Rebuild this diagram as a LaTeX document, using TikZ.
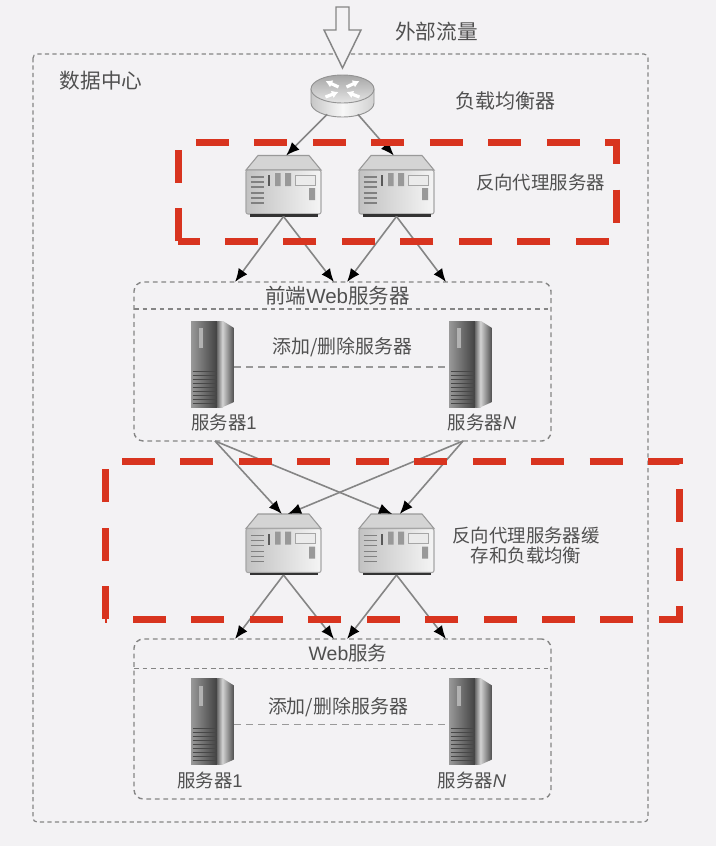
\documentclass[tikz,border=0pt]{standalone}
\usepackage{fontspec}
\setmainfont{Noto Sans CJK SC}
\newfontfamily\latinfont{Liberation Sans}
\usetikzlibrary{positioning,shapes,arrows.meta}
\definecolor{pagebg}{HTML}{F3F2F4}
\definecolor{dashred}{HTML}{D8341F}
\definecolor{labelgray}{HTML}{505050}
\definecolor{linegray}{HTML}{858585}

\tikzset{
    proxyserver/.pic={
        \path[draw=gray!80,line width=0.8pt,fill=black!17] (-25.5,-30.5) -- (25.5,-30.5) -- (37.5,-16) -- (-37.5,-16) -- cycle;
        \path[draw=gray!70,line width=0.8pt,rounded corners=1.5pt,left color=black!24,right color=black!4] (-37.5,-16) rectangle (37.5,28);
        \fill[black!80] (-34,28) rectangle (34,30.5);
        \draw[black!50,line width=1pt] (-33,-9) -- (-20,-9) (-33,-4) -- (-20,-4) (-33,1) -- (-20,1)
            (-33,7) -- (-20,7) (-33,12) -- (-20,12) (-33,17) -- (-20,17);
        \fill[black!65] (-16,-11) rectangle (-13.5,0);
        \fill[black!40] (-8.5,-13) rectangle (-3,0) (1.5,-13) rectangle (7.5,0) (25.5,2) rectangle (31.5,14);
        \draw[black!35,fill=black!8] (11.5,-11) rectangle (31.5,-1);
    },
    towerserver/.pic={
        \path[left color=black!40,right color=black!75] (-21.5,-43) rectangle (5,43);
        \path[left color=black!55,right color=black!12] (5,-43) rectangle (10.5,43);
        \path[left color=black!20,right color=black!70] (10.5,-43) -- (21.5,-36) -- (21.5,38) -- (10.5,43) -- cycle;
        \fill[black!30] (-14,-36) rectangle (-9.5,-16);
        \draw[black!72,line width=0.7pt] (-20,7) -- (4,7) (-20,11) -- (4,11) (-20,15) -- (4,15) (-20,19) -- (4,19)
            (-20,23) -- (4,23) (-20,27) -- (4,27) (-20,31) -- (4,31) (-20,35) -- (4,35) (-20,39) -- (4,39);
    },
    routerbox/.pic={
        \path[draw=gray!85,line width=0.7pt,left color=black!22,right color=black!18,middle color=black!3]
            (-31.5,-7) -- (-31.5,7) arc[start angle=180,end angle=0,x radius=31.5,y radius=14] -- (31.5,-7) -- cycle;
        \path[draw=gray!85,line width=0.7pt,top color=black!35,bottom color=black!10] (0,-7) ellipse[x radius=31.5,y radius=14];
        \draw[white,line width=2.4pt,-{Latex[length=5pt,width=6pt]}] (-4,-9) -- (-17,-15);
        \draw[white,line width=2.4pt,-{Latex[length=5pt,width=6pt]}] (4,-9) -- (17,-15);
        \draw[white,line width=2.4pt,-{Latex[length=5pt,width=6pt]}] (-17,1) -- (-4,-4);
        \draw[white,line width=2.4pt,-{Latex[length=5pt,width=6pt]}] (17,1) -- (4,-4);
    }
}

\begin{document}
\begin{tikzpicture}[
    x=0.75pt,y=-0.75pt,
    iconbox/.style={inner sep=0pt,outer sep=0pt,rectangle},
    proxybox/.style={iconbox,minimum width=56.25pt,minimum height=45.75pt},
    towerbox/.style={iconbox,minimum width=32.25pt,minimum height=64.5pt},
    routernode/.style={ellipse,inner sep=0pt,outer sep=0pt,minimum width=47.25pt,minimum height=31.5pt},
    panel/.style={draw=linegray,line width=1.05pt,dash pattern=on 3.6pt off 2.8pt,rounded corners=7pt,
        minimum width=312.75pt,inner sep=0pt,outer sep=0pt},
    divider/.style={draw=linegray,line width=1.05pt,dash pattern=on 3.6pt off 2.8pt},
    outerbox/.style={draw=linegray,line width=0.9pt,dash pattern=on 3.2pt off 2.4pt,rounded corners=3pt},
    redbox/.style={draw=dashred,line width=5.25pt,dash pattern=on 24.75pt off 19.1pt},
    arrow/.style={draw=linegray,line width=1.2pt,-{Latex[black,length=10pt,width=8pt]}},
    joinline/.style={draw=black!40,line width=1.2pt,dash pattern=on 5.5pt off 3.5pt},
    bigarrow/.style={draw=linegray,line width=1.1pt,fill=pagebg},
    toplabel/.style={text=labelgray,inner sep=0pt,font=\fontsize{15.5}{18}\selectfont},
    midlabel/.style={text=labelgray,inner sep=0pt,font=\fontsize{13.8}{15}\selectfont,align=center}
]

\fill[pagebg] (0,0) rectangle (716,846);
\useasboundingbox (0,0) rectangle (716,846);

% Data centre frame
\draw[outerbox] (33,54) rectangle (648,822);

% Panels
\node[panel,minimum height=119.25pt] (frontPanel) at (342.5,361.5) {};
\node[panel,minimum height=120pt] (webPanel) at (342.5,719) {};
\node[midlabel,minimum height=20pt,font=\fontsize{15.4}{15}\selectfont] (frontTitle) at (337.5,295.5) {前端{\latinfont Web}服务器};
\node[midlabel,minimum height=21.75pt,font=\fontsize{14.6}{15}\selectfont] (webTitle) at (348,653.5) {{\latinfont Web}服务};
\draw[divider] (frontPanel.west |- frontTitle.south) -- (frontPanel.east |- frontTitle.south);
\draw[divider] (webPanel.west |- webTitle.south) -- (webPanel.east |- webTitle.south);

% Icons
\node[routernode] (router) at (342.5,96) {};
\node[proxybox] (proxyA) at (283.5,186) {};
\node[proxybox] (proxyB) at (396.5,186) {};
\node[proxybox] (proxyC) at (283.5,544.5) {};
\node[proxybox] (proxyD) at (396.5,544.5) {};
\node[towerbox] (frontOne) at (212.5,364) {};
\node[towerbox] (frontN) at (470.5,364) {};
\node[towerbox] (webOne) at (212.5,721.5) {};
\node[towerbox] (webN) at (470.5,721.5) {};
\pic at (router) {routerbox};
\pic at (proxyA) {proxyserver};
\pic at (proxyB) {proxyserver};
\pic at (proxyC) {proxyserver};
\pic at (proxyD) {proxyserver};
\pic at (frontOne) {towerserver};
\pic at (frontN) {towerserver};
\pic at (webOne) {towerserver};
\pic at (webN) {towerserver};

% Traffic arrow
\draw[bigarrow] (336,7) -- (349,7) -- (349,30) -- (361,30) -- (342.5,68) -- (324,30) -- (336,30) -- cycle;

% Labels
\node[toplabel] (trafficText) at (436.5,32) {外部流量};
\node[toplabel] (centerText) at (101,81) {数据中心};
\node[midlabel,font=\fontsize{15}{18}\selectfont] (balancerText) at (505.5,101) {负载均衡器};
\node[midlabel] (proxyText) at (540.5,183) {反向代理服务器};
\node[midlabel] (cacheText) at (526,546) {反向代理服务器缓\\存和负载均衡};
\node[midlabel,font=\fontsize{14.2}{15}\selectfont] (frontAdd) at (342.5,347) {添加/删除服务器};
\node[midlabel,font=\fontsize{14.2}{15}\selectfont] (webAdd) at (338,707) {添加/删除服务器};
\node[midlabel] (frontOneText) at (224,423) {服务器{\latinfont 1}};
\node[midlabel] (frontNText) at (482,423) {服务器{\latinfont\itshape N}};
\node[midlabel] (webOneText) at (210,780) {服务器{\latinfont 1}};
\node[midlabel] (webNText) at (472,780) {服务器{\latinfont\itshape N}};

% Entry points on the panels
\coordinate (frontInA) at (235,282);
\coordinate (frontInB) at (334,282);
\coordinate (frontInC) at (347,282);
\coordinate (frontInD) at (446,282);
\coordinate (frontOutA) at (215,441);
\coordinate (frontOutB) at (463,441);
\coordinate (webInA) at (235,639);
\coordinate (webInB) at (334,639);
\coordinate (webInC) at (347,639);
\coordinate (webInD) at (446,639);

% Connections
\draw[arrow] (router.230) -- (proxyA.85);
\draw[arrow] (router.310) -- (proxyB.95);
\draw[arrow] (proxyA.south) -- (frontInA);
\draw[arrow] (proxyA.south) -- (frontInB);
\draw[arrow] (proxyB.south) -- (frontInC);
\draw[arrow] (proxyB.south) -- (frontInD);
\draw[arrow] (frontOutA) -- (proxyC.93);
\draw[arrow] (frontOutA) -- (proxyD.98);
\draw[arrow] (frontOutB) -- (proxyC.82);
\draw[arrow] (frontOutB) -- (proxyD.84);
\draw[arrow] (proxyC.south) -- (webInA);
\draw[arrow] (proxyC.south) -- (webInB);
\draw[arrow] (proxyD.south) -- (webInC);
\draw[arrow] (proxyD.south) -- (webInD);
\draw[joinline] (frontOne.-8) -- (frontN.188);
\draw[joinline] (webOne.-8) -- (webN.188);

% Red groups
\draw[redbox] (196,142) -- (616,142) -- (616,241) -- (178,241);
\draw[redbox] (178,241) -- (178,142);
\draw[redbox] (122,461.5) -- (679,461.5) -- (679,619) -- (105,619);
\draw[redbox] (105,619) -- (105,461.5);

\end{tikzpicture}
\end{document}
